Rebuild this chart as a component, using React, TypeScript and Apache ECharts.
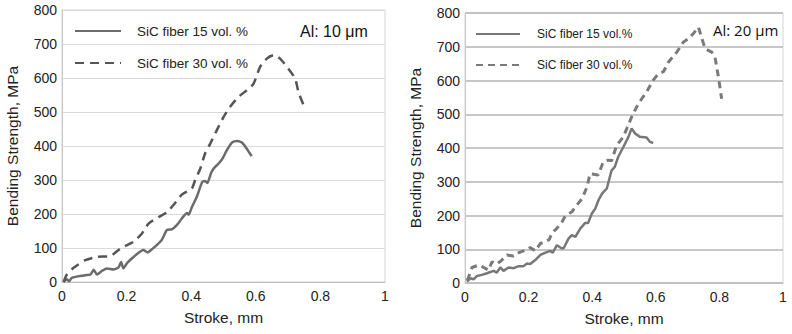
import React, { useEffect, useRef } from "react";
import * as echarts from "echarts";

const xTicks = [0, 0.2, 0.4, 0.6, 0.8, 1];
const yTicks = [0, 100, 200, 300, 400, 500, 600, 700, 800];

const nameL15 = "SiC fiber 15 vol. %";
const nameL30 = "SiC fiber 30 vol. %";
const nameR15 = "SiC fiber 15 vol.%";
const nameR30 = "SiC fiber 30 vol.%";

const left15: number[][] = [
  [0.005, 0], [0.015, 8], [0.022, 2], [0.03, 12], [0.046, 16], [0.072, 20], [0.088, 22], [0.098, 36],
  [0.108, 22], [0.124, 33], [0.139, 40], [0.16, 37], [0.175, 43], [0.183, 59], [0.19, 40], [0.201, 55],
  [0.216, 69], [0.237, 86], [0.252, 94], [0.265, 87], [0.278, 96], [0.294, 109], [0.309, 124], [0.325, 153],
  [0.34, 155], [0.356, 168], [0.376, 193], [0.387, 203], [0.392, 198], [0.402, 220], [0.418, 252],
  [0.434, 294], [0.443, 297], [0.45, 291], [0.461, 319], [0.469, 333], [0.479, 343], [0.495, 360],
  [0.51, 387], [0.526, 410], [0.541, 415], [0.557, 410], [0.572, 392], [0.587, 370],
];

const left30: number[][] = [
  [0.005, 0], [0.015, 22], [0.036, 42], [0.072, 64], [0.108, 74], [0.149, 76], [0.18, 98], [0.221, 118],
  [0.247, 142], [0.268, 172], [0.299, 191], [0.325, 205], [0.35, 232], [0.371, 257], [0.402, 275],
  [0.412, 299], [0.428, 333], [0.443, 378], [0.459, 407], [0.479, 446], [0.5, 485], [0.52, 515],
  [0.546, 544], [0.572, 564], [0.593, 583], [0.613, 632], [0.634, 657], [0.655, 667], [0.675, 657],
  [0.701, 627], [0.722, 598], [0.732, 559], [0.75, 515],
];

const right15: number[][] = [
  [0.006, 4], [0.017, 14], [0.027, 11], [0.038, 21], [0.053, 24], [0.069, 29], [0.09, 36], [0.1, 31],
  [0.111, 46], [0.121, 36], [0.137, 46], [0.153, 44], [0.169, 50], [0.184, 50], [0.195, 58], [0.205, 56],
  [0.221, 68], [0.237, 83], [0.253, 90], [0.268, 95], [0.276, 90], [0.289, 112], [0.303, 103], [0.31, 103],
  [0.326, 132], [0.336, 142], [0.347, 137], [0.363, 162], [0.378, 178], [0.387, 178], [0.399, 206],
  [0.41, 221], [0.42, 246], [0.431, 265], [0.446, 280], [0.461, 334], [0.471, 344], [0.482, 374],
  [0.498, 403], [0.514, 433], [0.524, 458], [0.535, 443], [0.55, 433], [0.571, 431], [0.582, 418],
  [0.592, 415],
];

const right30: number[][] = [
  [0.006, 8], [0.01, 14], [0.022, 46], [0.043, 53], [0.059, 46], [0.074, 38], [0.085, 63], [0.1, 56],
  [0.116, 68], [0.132, 83], [0.153, 80], [0.169, 90], [0.19, 97], [0.205, 105], [0.221, 95], [0.237, 117],
  [0.253, 122], [0.265, 129], [0.274, 149], [0.289, 162], [0.305, 181], [0.315, 198], [0.336, 211],
  [0.352, 231], [0.368, 250], [0.384, 285], [0.393, 324], [0.419, 320], [0.435, 359], [0.45, 364],
  [0.461, 362], [0.477, 408], [0.498, 433], [0.524, 492], [0.54, 522], [0.556, 546], [0.571, 566],
  [0.592, 601], [0.608, 620], [0.624, 626], [0.64, 655], [0.666, 684], [0.687, 714], [0.703, 724],
  [0.718, 739], [0.734, 758], [0.755, 694], [0.776, 684], [0.786, 670], [0.797, 610], [0.807, 546],
];

const FONT = "'Liberation Sans', Arial, sans-serif";

function xAxis(gridIndex: number) {
  return {
    type: "value",
    gridIndex,
    min: xTicks[0],
    max: xTicks[xTicks.length - 1],
    interval: 0.2,
    name: "Stroke, mm",
    nameLocation: "middle",
    nameGap: 27,
    nameTextStyle: { fontFamily: FONT, fontSize: 15.5, color: "#222" },
    axisLine: { show: true, lineStyle: { color: "#bfbfbf", width: 1 } },
    axisTick: { show: false },
    splitLine: { show: false },
    axisLabel: { fontFamily: FONT, fontSize: 14, color: "#222", margin: 7 },
  };
}

function yAxis(gridIndex: number, gridColor: string, gridWidth: number) {
  return {
    type: "value",
    gridIndex,
    min: yTicks[0],
    max: yTicks[yTicks.length - 1],
    interval: 100,
    name: "Bending Strength, MPa",
    nameLocation: "middle",
    nameGap: 42,
    nameTextStyle: { fontFamily: FONT, fontSize: 15.5, color: "#222" },
    axisLine: { show: true, lineStyle: { color: "#c8c8c8", width: 1 } },
    axisTick: { show: false },
    splitLine: { show: true, lineStyle: { color: gridColor, width: gridWidth } },
    axisLabel: { fontFamily: FONT, fontSize: 14, color: "#222", margin: 5 },
  };
}

export default function App() {
  const ref = useRef<HTMLDivElement>(null);
  useEffect(() => {
    if (!ref.current) return;
    const chart = echarts.init(ref.current, undefined, { renderer: "svg" });
    chart.setOption({
      animation: false,
      backgroundColor: "#ffffff",
      grid: [
        { left: 62, right: 407, top: 10, bottom: 52, show: true, borderColor: "#d4d4d4", borderWidth: 1 },
        { left: 465, right: 9, top: 13, bottom: 51, show: true, borderColor: "#d4d4d4", borderWidth: 1 },
      ],
      xAxis: [xAxis(0), xAxis(1)],
      yAxis: [yAxis(0, "#dadada", 1), yAxis(1, "#b4b4b4", 1.5)],
      legend: [
        {
          data: [nameL15, nameL30],
          orient: "vertical",
          left: 74,
          top: 24,
          itemWidth: 46,
          itemHeight: 14,
          itemGap: 18,
          padding: 0,
          itemStyle: { opacity: 0 },
          textStyle: { fontFamily: FONT, fontSize: 13.5, color: "#222", padding: [0, 0, 0, 11] },
        },
        {
          data: [nameR15, nameR30],
          orient: "vertical",
          left: 475,
          top: 28,
          itemWidth: 44,
          itemHeight: 14,
          itemGap: 19,
          padding: 0,
          itemStyle: { opacity: 0 },
          textStyle: { fontFamily: FONT, fontSize: 12, color: "#222", padding: [0, 0, 0, 12] },
        },
      ],
      graphic: [
        {
          type: "text",
          left: 300,
          top: 23,
          style: { text: "Al: 10 μm", font: "16px 'Liberation Sans', Arial, sans-serif", fill: "#111" },
        },
        {
          type: "text",
          left: 713,
          top: 22,
          style: { text: "Al: 20 μm", font: "15px 'Open Sans', sans-serif", fill: "#111" },
        },
      ],
      series: [
        {
          name: nameL15,
          type: "line",
          xAxisIndex: 0,
          yAxisIndex: 0,
          data: left15,
          symbol: "none",
          smooth: 0.2,
          lineStyle: { color: "#6b6b6b", width: 2.5 },
          itemStyle: { color: "#6b6b6b" },
        },
        {
          name: nameL30,
          type: "line",
          xAxisIndex: 0,
          yAxisIndex: 0,
          data: left30,
          symbol: "none",
          smooth: 0.2,
          lineStyle: { color: "#555555", width: 2.5, type: [9, 6] },
          itemStyle: { color: "#555555" },
        },
        {
          name: nameR15,
          type: "line",
          xAxisIndex: 1,
          yAxisIndex: 1,
          data: right15,
          symbol: "none",
          lineStyle: { color: "#777777", width: 2.5 },
          itemStyle: { color: "#777777" },
        },
        {
          name: nameR30,
          type: "line",
          xAxisIndex: 1,
          yAxisIndex: 1,
          data: right30,
          symbol: "none",
          lineStyle: { color: "#7a7a7a", width: 3, type: [7, 5] },
          itemStyle: { color: "#7a7a7a" },
        },
      ],
    });
    return () => chart.dispose();
  }, []);
  return (
    <div
      ref={ref}
      style={{ position: "fixed", left: 0, top: 0, width: 792, height: 334, background: "#fff" }}
    />
  );
}
